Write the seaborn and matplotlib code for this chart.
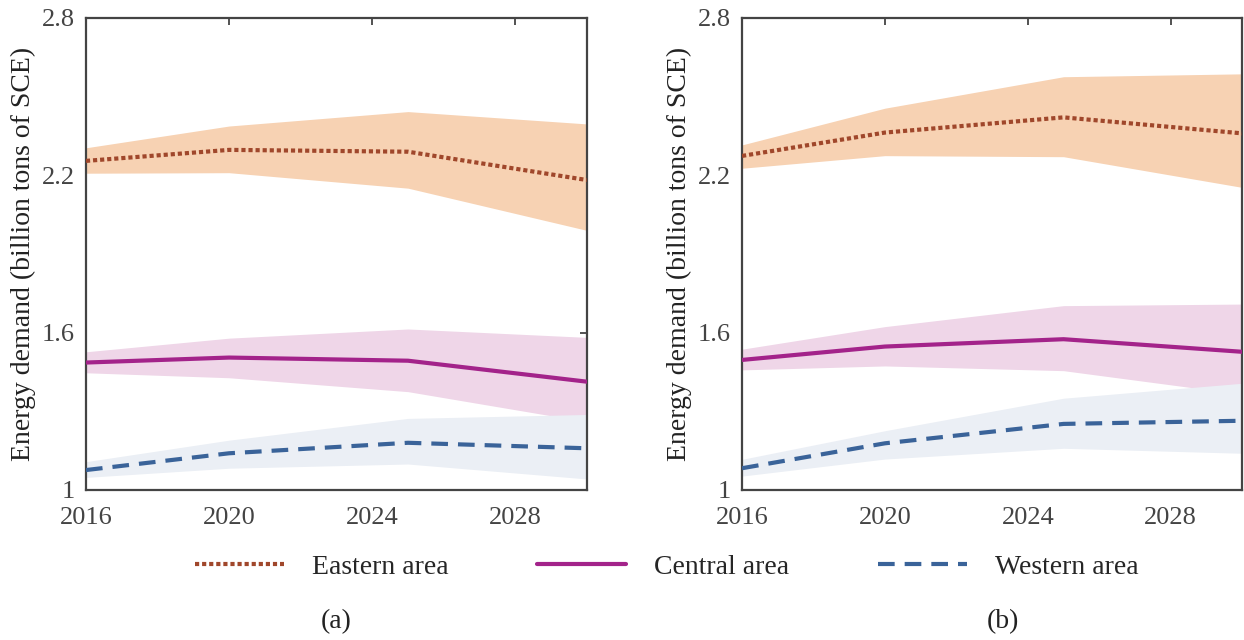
import numpy as np
import pandas as pd
import matplotlib
matplotlib.use("Agg")
import matplotlib.pyplot as plt
import seaborn as sns

years = [2016, 2020, 2025, 2030]
areas = ["Eastern area", "Central area", "Western area"]

# panel (a)
a_east = [2.255, 2.297, 2.290, 2.182]
a_east_hi = [2.305, 2.388, 2.443, 2.396]
a_east_lo = [2.208, 2.210, 2.151, 1.990]
a_cent = [1.486, 1.505, 1.493, 1.413]
a_cent_hi = [1.527, 1.579, 1.614, 1.582]
a_cent_lo = [1.447, 1.428, 1.375, 1.260]
a_west = [1.076, 1.140, 1.180, 1.159]
a_west_hi = [1.108, 1.190, 1.273, 1.288]
a_west_lo = [1.048, 1.083, 1.099, 1.042]

# panel (b)
b_east = [2.274, 2.363, 2.421, 2.360]
b_east_hi = [2.316, 2.456, 2.576, 2.587]
b_east_lo = [2.227, 2.275, 2.271, 2.154]
b_cent = [1.496, 1.547, 1.575, 1.527]
b_cent_hi = [1.537, 1.623, 1.703, 1.709]
b_cent_lo = [1.458, 1.473, 1.455, 1.365]
b_west = [1.083, 1.178, 1.252, 1.264]
b_west_hi = [1.117, 1.226, 1.350, 1.407]
b_west_lo = [1.053, 1.118, 1.159, 1.140]

line_colors = ["#A0472B", "#A3238A", "#3A6399"]
band_colors = ["#F7D2B3", "#EFD6E8", "#EBEFF5"]
styles = [(0, (1, 0.7)), "-", (0, (4.0, 2.4))]

sns.set_style("white")
plt.rcParams["font.family"] = ["Liberation Serif", "DejaVu Serif"]

fig = plt.figure(figsize=(12.44, 6.4), dpi=100)
ax_a = fig.add_axes([0.0691, 0.2344, 0.4027, 0.7375])
ax_b = fig.add_axes([0.5965, 0.2344, 0.4020, 0.7375])

panels = [
    (ax_a, [a_east, a_cent, a_west], [a_east_hi, a_cent_hi, a_west_hi], [a_east_lo, a_cent_lo, a_west_lo]),
    (ax_b, [b_east, b_cent, b_west], [b_east_hi, b_cent_hi, b_west_hi], [b_east_lo, b_cent_lo, b_west_lo]),
]

for ax, mids, his, los in panels:
    for i in range(3):
        ax.fill_between(years, los[i], his[i], color=band_colors[i], lw=0, zorder=1)
    for i in range(3):
        df = pd.DataFrame({"year": years, "value": mids[i]})
        sns.lineplot(data=df, x="year", y="value", ax=ax, color=line_colors[i],
                     lw=3, label=areas[i], zorder=3)
        ax.lines[-1].set_linestyle(styles[i])
    ax.set_xlim(2016, 2030)
    ax.set_ylim(1, 2.8)
    ax.set_xticks([2016, 2020, 2024, 2028])
    ax.set_yticks([1, 1.6, 2.2, 2.8])
    ax.set_yticklabels(["1", "1.6", "2.2", "2.8"])
    ax.set_xlabel("")
    ax.set_ylabel("Energy demand (billion tons of SCE)", fontsize=20, color="#222222", labelpad=4)
    ax.tick_params(direction="in", length=5, width=1.3, colors="#444444", labelsize=19,
                   top=True, right=True, labelcolor="#444444")
    ax.tick_params(axis="y", pad=8)
    ax.tick_params(axis="x", pad=12)
    for s in ax.spines.values():
        s.set_color("#444444")
        s.set_linewidth(1.6)
    ax.get_legend().remove()

handles, labels = ax_a.get_legend_handles_labels()
fig.legend(handles, labels, loc="center", bbox_to_anchor=(0.536, 0.114), ncol=3,
           frameon=False, fontsize=20, handlelength=3.2, handletextpad=1.0,
           columnspacing=3.2)

fig.text(0.27, 0.028, "(a)", ha="center", va="center", fontsize=20, color="#222222")
fig.text(0.806, 0.028, "(b)", ha="center", va="center", fontsize=20, color="#222222")

fig.savefig("out.png", dpi=100)
